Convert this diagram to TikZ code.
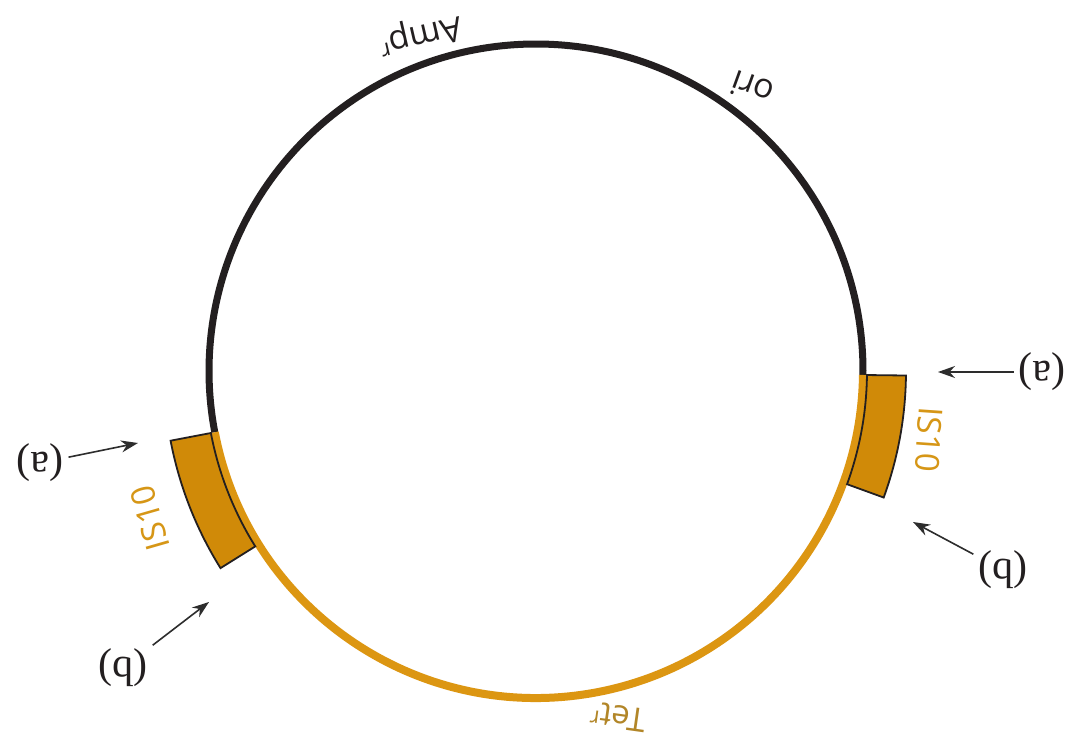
\documentclass[tikz,border=0pt]{standalone}
\usepackage{fontspec}
\setmainfont{Liberation Serif}
\setsansfont{Open Sans}
\usetikzlibrary{arrows.meta}
\definecolor{plasblack}{RGB}{35,31,32}
\definecolor{tetgold}{RGB}{220,150,18}
\definecolor{isfill}{RGB}{208,138,8}
\definecolor{istext}{RGB}{214,150,22}
\definecolor{tettext}{RGB}{178,134,40}
\definecolor{arrowgray}{RGB}{45,45,45}
\tikzset{
  blackarc/.style={draw=plasblack, line width=7pt},
  goldarc/.style={draw=tetgold, line width=8pt},
  isbox/.style={draw=plasblack, fill=isfill, line width=1.8pt, line join=miter},
  letterlabel/.style={font=\fontsize{42}{44}\selectfont, text=plasblack, inner sep=5pt, rotate=180},
  genelabel/.style={font=\sffamily\fontsize{34}{36}\selectfont, text=plasblack, inner sep=0pt},
  islabel/.style={font=\sffamily\fontsize{33}{35}\selectfont, text=istext, inner sep=0pt},
  pointer/.style={draw=arrowgray, line width=1.6pt, -{Stealth[length=17pt,width=12pt]}}
}
\begin{document}
\begin{tikzpicture}[x=1pt,y=1pt]
\useasboundingbox[fill=white] (0,0) rectangle (1079,747);
\coordinate (C) at (536,376);
\begin{scope}[shift={(C)}]
  % plasmid backbone
  \draw[blackarc] (-0.7:327) arc[start angle=-0.7, end angle=190.8, radius=327];
  \draw[goldarc] (190.8:327) arc[start angle=190.8, end angle=359.3, radius=327];
  % IS10 elements
  \draw[isbox] (-0.7:331) arc[start angle=-0.7, end angle=-20, radius=331]
     -- (-20:370) arc[start angle=-20, end angle=-0.7, radius=370] -- cycle;
  \draw[isbox] (190.8:331) arc[start angle=190.8, end angle=212, radius=331]
     -- (212:372) arc[start angle=212, end angle=190.8, radius=372] -- cycle;
\end{scope}
% gene labels
\node[genelabel, rotate=193] (amp) at (420,713) {Amp\textsuperscript{r}};
\node[genelabel, rotate=160] (ori) at (752,659) {ori};
\node[genelabel, rotate=172, text=tettext, font=\sffamily\fontsize{33}{35}\selectfont] (tet) at (618,30) {Tet\textsuperscript{r}};
\node[islabel, rotate=-94] (isr) at (929,307) {IS10};
\node[islabel, rotate=106] (isl) at (150,229) {IS10};
% end labels and pointers
\node[letterlabel] (ar) at (1042,375) {(a)};
\node[letterlabel] (br) at (1003,177) {(b)};
\node[letterlabel] (al) at (40,284) {(a)};
\node[letterlabel] (bl) at (123,79) {(b)};
\coordinate (tar) at (938,375);
\coordinate (tbr) at (913,225);
\coordinate (tal) at (138,304);
\coordinate (tbl) at (209,145);
\draw[pointer] (ar) -- (tar);
\draw[pointer] (br) -- (tbr);
\draw[pointer] (al) -- (tal);
\draw[pointer] (bl) -- (tbl);
\end{tikzpicture}
\end{document}
